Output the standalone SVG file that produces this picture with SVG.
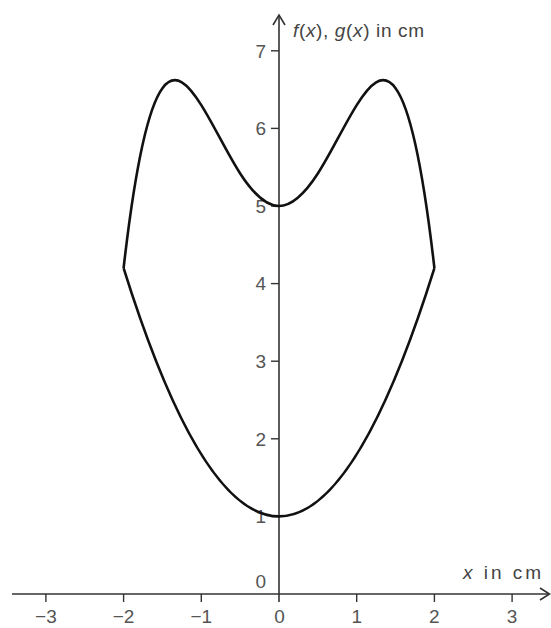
<svg xmlns="http://www.w3.org/2000/svg" width="551" height="628" viewBox="0 0 551 628">
  <style>
    .axis { stroke: #333; stroke-width: 1.6; fill: none; }
    .tick { stroke: #333; stroke-width: 1.4; }
    .curve { stroke: #111; stroke-width: 2.6; fill: none; stroke-linejoin: round; }
    .num { font-family: "Liberation Sans", Arial, sans-serif; font-size: 19px; fill: #555; }
    .lbl { font-family: "Liberation Sans", Arial, sans-serif; font-size: 19px; fill: #444; }
  </style>
  <rect width="551" height="628" fill="#fff"/>
  <g id="axes">
    <line class="axis" x1="12" y1="594" x2="549" y2="594"/>
    <polyline class="axis" points="540,588 549.5,594 540,600"/>
    <line class="axis" x1="279" y1="15" x2="279" y2="602"/>
    <polyline class="axis" points="273,25 279,15 285,25"/>
  </g>
  <g id="x-ticks">
    <line class="tick" x1="45.9" y1="594" x2="45.9" y2="602"/>
    <line class="tick" x1="123.6" y1="594" x2="123.6" y2="602"/>
    <line class="tick" x1="201.3" y1="594" x2="201.3" y2="602"/>
    <line class="tick" x1="356.7" y1="594" x2="356.7" y2="602"/>
    <line class="tick" x1="434.4" y1="594" x2="434.4" y2="602"/>
    <line class="tick" x1="512.1" y1="594" x2="512.1" y2="602"/>
  </g>
  <g id="y-ticks">
    <line class="tick" x1="271" y1="516.4" x2="279" y2="516.4"/>
    <line class="tick" x1="271" y1="438.8" x2="279" y2="438.8"/>
    <line class="tick" x1="271" y1="361.2" x2="279" y2="361.2"/>
    <line class="tick" x1="271" y1="283.6" x2="279" y2="283.6"/>
    <line class="tick" x1="271" y1="206" x2="279" y2="206"/>
    <line class="tick" x1="271" y1="128.4" x2="279" y2="128.4"/>
    <line class="tick" x1="271" y1="50.8" x2="279" y2="50.8"/>
  </g>
  <g id="x-labels" class="num" text-anchor="middle">
    <text x="45.9" y="623">−3</text>
    <text x="123.6" y="623">−2</text>
    <text x="201.3" y="623">−1</text>
    <text x="279.5" y="623">0</text>
    <text x="356.7" y="623">1</text>
    <text x="434.4" y="623">2</text>
    <text x="512.1" y="623">3</text>
  </g>
  <g id="y-labels" class="num" text-anchor="end">
    <text x="266" y="588">0</text>
    <text x="266" y="523.2">1</text>
    <text x="266" y="445.6">2</text>
    <text x="266" y="368">3</text>
    <text x="266" y="290.4">4</text>
    <text x="266" y="212.8">5</text>
    <text x="266" y="135.2">6</text>
    <text x="266" y="57.6">7</text>
  </g>
  <g id="axis-titles" class="lbl">
    <text x="293" y="37" textLength="131" lengthAdjust="spacing"><tspan font-style="italic">f</tspan>(<tspan font-style="italic">x</tspan>), <tspan font-style="italic">g</tspan>(<tspan font-style="italic">x</tspan>) in cm</text>
    <text x="463" y="579" textLength="78" lengthAdjust="spacing"><tspan font-style="italic">x</tspan> in cm</text>
  </g>
  <g id="curves">
    <path id="f-curve" class="curve" d="M123.6,268.08 C136.55,154.27 149.5,105.6 162.45,88.15 C175.4,70.69 188.35,84.43 201.3,105.12 C214.25,125.81 227.2,153.46 240.15,173.51 C253.1,193.55 266.05,206 279,206 C291.95,206 304.9,193.55 317.85,173.51 C330.8,153.46 343.75,125.81 356.7,105.12 C369.65,84.43 382.6,70.69 395.55,88.15 C408.5,105.6 421.45,154.27 434.4,268.08"/>
    <path id="g-curve" class="curve" d="M123.6,268.08 Q279,764.72 434.4,268.08"/>
  </g>
</svg>
